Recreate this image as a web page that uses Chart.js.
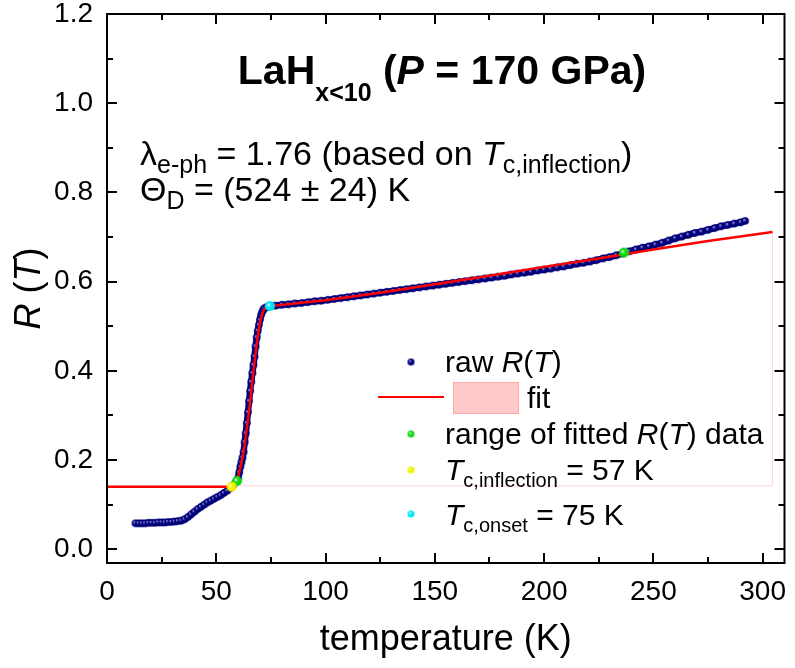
<!DOCTYPE html>
<html>
<head>
<meta charset="utf-8">
<script src="https://cdn.jsdelivr.net/npm/chart.js@4.4.1/dist/chart.umd.min.js"></script>
<style>
  html, body { margin: 0; padding: 0; background: #fff; }
  #wrap { width: 795px; height: 668px; position: relative; }
</style>
</head>
<body>
<div id="wrap"><canvas id="canvas-RT"></canvas></div>
<script>
// measured R(T), temperature in K
const rawTemp = [
  13, 14.5, 16, 17.5, 19, 20.5, 22, 23.5, 25, 26.5, 28, 29.5, 31, 32.5, 34, 35.5,
  37, 38.5, 40, 41.5, 43, 44.5, 46, 47.5, 49, 50.5, 52, 53.5, 55, 56.5, 58, 59.5,
  60, 60.5, 61, 61.5, 62, 62.5, 63, 63.5, 64, 64.5, 65, 65.5, 66, 66.5, 67, 67.5,
  68, 68.5, 69, 69.5, 70, 70.5, 71, 71.5, 72, 73, 74, 75,
  77, 80, 83, 86, 89, 92, 95, 98, 101, 104, 107, 110, 113, 116, 119, 122, 125,
  128, 131, 134, 137, 140, 143, 146, 149, 152, 155, 158, 161, 164, 167, 170,
  173, 176, 179, 182, 185, 188, 191, 194, 197, 200, 203, 206, 209, 212, 215,
  218, 221, 224, 227, 230, 233, 236, 239, 242, 245, 248, 251, 254, 257, 260,
  263, 266, 269, 272, 275, 278, 281, 284, 287, 290, 292
];
const rawR = [
  0.058, 0.058, 0.058, 0.058, 0.059, 0.059, 0.059, 0.060, 0.060, 0.060, 0.061, 0.061, 0.062, 0.063, 0.064, 0.067,
  0.072, 0.078, 0.084, 0.090, 0.095, 0.100, 0.105, 0.109, 0.113, 0.117, 0.121, 0.126, 0.131, 0.137, 0.145, 0.154,
  0.160, 0.172, 0.185, 0.195, 0.205, 0.218, 0.240, 0.260, 0.283, 0.307, 0.332, 0.355, 0.375, 0.395, 0.413, 0.432,
  0.455, 0.475, 0.490, 0.503, 0.515, 0.525, 0.532, 0.537, 0.540, 0.543, 0.544, 0.545,
  0.546, 0.548, 0.549, 0.551, 0.552, 0.554, 0.556, 0.557, 0.559, 0.561, 0.563, 0.565, 0.567, 0.569, 0.571, 0.573, 0.575,
  0.577, 0.579, 0.581, 0.583, 0.585, 0.587, 0.589, 0.591, 0.593, 0.595, 0.597, 0.599, 0.601, 0.603, 0.605,
  0.607, 0.609, 0.611, 0.613, 0.616, 0.618, 0.620, 0.622, 0.625, 0.627, 0.629, 0.632, 0.634, 0.637, 0.640,
  0.642, 0.645, 0.648, 0.652, 0.655, 0.659, 0.663, 0.668, 0.672, 0.676, 0.679, 0.683, 0.687, 0.692, 0.697,
  0.701, 0.705, 0.709, 0.712, 0.716, 0.720, 0.724, 0.727, 0.730, 0.733, 0.736
];

// fitted curve
const fitTemp = [0, 57, 58.5, 60, 61, 62, 63, 64, 65, 66, 67, 68, 69, 70, 71, 72, 73, 74.5,
  100, 125, 150, 175, 200, 225, 250, 275, 304.5];
const fitR = [0.14, 0.14, 0.146, 0.162, 0.182, 0.205, 0.235, 0.272, 0.31, 0.352, 0.398, 0.44, 0.478,
  0.508, 0.528, 0.538, 0.543, 0.545, 0.558, 0.575, 0.594, 0.613, 0.633, 0.652, 0.672, 0.691, 0.711];

// outline of the fit band
const bandTemp = [57, 304.5, 304.5];
const bandR = [0.142, 0.142, 0.711];

// marked points
const rangeTemp = [59.5, 236.5];
const rangeR = [0.153, 0.665];
const inflectionTemp = [57];
const inflectionR = [0.14];
const onsetTemp = [74.5];
const onsetR = [0.545];

const xTickValues = [0, 50, 100, 150, 200, 250, 300];
const yTickValues = [0, 0.2, 0.4, 0.6, 0.8, 1.0, 1.2];

const FONT = '"Liberation Sans", Arial, sans-serif';

const toPoints = (xs, ys) => xs.map((x, i) => ({ x: x, y: ys[i] }));

// small shaded ball used as point marker
function makeBall(r, inner, outer) {
  const c = document.createElement("canvas");
  const s = Math.ceil(r * 2) + 2;
  c.width = s;
  c.height = s;
  const g = c.getContext("2d");
  const grad = g.createRadialGradient(s / 2 - r * 0.3, s / 2 - r * 0.3, 0.2, s / 2, s / 2, r);
  grad.addColorStop(0, inner);
  grad.addColorStop(0.45, outer);
  grad.addColorStop(1, outer);
  g.fillStyle = grad;
  g.beginPath();
  g.arc(s / 2, s / 2, r, 0, Math.PI * 2);
  g.fill();
  return c;
}

const navyBall = makeBall(3.8, "#b0b0e8", "#00007a");
const greenBall = makeBall(5, "#d8ffd8", "#12d812");
const yellowBall = makeBall(5, "#ffffe0", "#f2f200");
const cyanBall = makeBall(5, "#eaffff", "#00e4f4");
const navyLegend = makeBall(3.5, "#b0b0e8", "#00007a");
const greenLegend = makeBall(3.5, "#d8ffd8", "#12d812");
const yellowLegend = makeBall(3.5, "#ffffe0", "#f2f200");
const cyanLegend = makeBall(3.5, "#eaffff", "#00e4f4");

// text with mixed styles: [text, size, style, dy]
function drawRich(ctx, x, y, parts, align) {
  const fontOf = (p) => (p[2] ? p[2] + " " : "") + p[1] + "px " + FONT;
  let w = 0;
  parts.forEach((p) => {
    ctx.font = fontOf(p);
    w += ctx.measureText(p[0]).width;
  });
  let cx = align === "center" ? x - w / 2 : x;
  parts.forEach((p) => {
    ctx.font = fontOf(p);
    ctx.fillText(p[0], cx, y + (p[3] || 0));
    cx += ctx.measureText(p[0]).width;
  });
}

const framePlugin = {
  id: "frame",
  afterDatasetsDraw(chart) {
    const { ctx, chartArea: a } = chart;
    const xs = chart.scales.x;
    const ys = chart.scales.y;
    const line = (x1, y1, x2, y2) => {
      ctx.beginPath();
      ctx.moveTo(x1, y1);
      ctx.lineTo(x2, y2);
      ctx.stroke();
    };
    ctx.save();
    ctx.strokeStyle = "#000";
    ctx.lineWidth = 2;
    ctx.strokeRect(a.left, a.top, a.right - a.left, a.bottom - a.top);
    // inward ticks on all four sides, minor ones shorter
    for (let v = 0; v <= 300; v += 25) {
      const px = Math.round(xs.getPixelForValue(v));
      const len = v % 50 === 0 ? 10 : 6;
      line(px, a.bottom, px, a.bottom - len);
      line(px, a.top, px, a.top + len);
    }
    for (let i = 0; i <= 12; i++) {
      const py = Math.round(ys.getPixelForValue(i / 10));
      const len = i % 2 === 0 ? 10 : 6;
      line(a.left, py, a.left + len, py);
      line(a.right, py, a.right - len, py);
    }
    ctx.restore();
  },
};

const textPlugin = {
  id: "texts",
  afterDraw(chart) {
    const ctx = chart.ctx;
    const a = chart.chartArea;
    ctx.save();
    ctx.fillStyle = "#000";
    ctx.textBaseline = "alphabetic";

    drawRich(ctx, 442, 84, [
      ["LaH", 41, "bold"], ["x<10", 25, "bold", 17], [" (", 41, "bold"],
      ["P", 41, "bold italic"], [" = 170 GPa)", 41, "bold"],
    ], "center");

    drawRich(ctx, 140, 165, [
      ["\u03bb", 34], ["e-ph", 25, "", 8], [" = 1.76 (based on ", 34],
      ["T", 34, "italic"], ["c,inflection", 25, "", 8], [")", 34],
    ]);
    drawRich(ctx, 140, 201, [
      ["\u0398", 34], ["D", 25, "", 8], [" = (524 \u00b1 24) K", 34],
    ]);

    // legend
    const mk = (img, x, y) => ctx.drawImage(img, x - img.width / 2, y - img.height / 2);
    mk(navyLegend, 411, 362);
    drawRich(ctx, 445, 372, [["raw ", 30], ["R", 30, "italic"], ["(", 30], ["T", 30, "italic"], [")", 30]]);

    ctx.strokeStyle = "#ff0000";
    ctx.lineWidth = 2;
    ctx.beginPath();
    ctx.moveTo(378, 397);
    ctx.lineTo(444, 397);
    ctx.stroke();
    ctx.fillStyle = "#ffcaca";
    ctx.fillRect(453, 382, 65, 31);
    ctx.strokeStyle = "#ffa8a8";
    ctx.lineWidth = 1;
    ctx.strokeRect(453.5, 382.5, 65, 31);
    ctx.fillStyle = "#000";
    drawRich(ctx, 527, 408, [["fit", 30]]);

    mk(greenLegend, 411, 434);
    drawRich(ctx, 445, 444, [["range of fitted ", 30], ["R", 30, "italic"], ["(", 30], ["T", 30, "italic"], [") data", 30]]);
    mk(yellowLegend, 411, 470);
    drawRich(ctx, 445, 480, [["T", 30, "italic"], ["c,inflection", 20, "", 7], [" = 57 K", 30]]);
    mk(cyanLegend, 411, 514);
    drawRich(ctx, 445, 525, [["T", 30, "italic"], ["c,onset", 20, "", 7], [" = 75 K", 30]]);

    // axis titles
    drawRich(ctx, (a.left + a.right) / 2, 650, [["temperature (K)", 36]], "center");
    ctx.translate(40, (a.top + a.bottom) / 2);
    ctx.rotate(-Math.PI / 2);
    drawRich(ctx, 0, 0, [["R", 36, "italic"], [" (", 36], ["T", 36, "italic"], [")", 36]], "center");
    ctx.restore();
  },
};

const context = document.getElementById("canvas-RT").getContext("2d");
const rtChart = new Chart(context, {
  type: "scatter",
  data: {
    datasets: [
      {
        label: "Tc,inflection",
        data: toPoints(inflectionTemp, inflectionR),
        pointStyle: yellowBall,
        order: 0,
      },
      {
        label: "Tc,onset",
        data: toPoints(onsetTemp, onsetR),
        pointStyle: cyanBall,
        order: 0,
      },
      {
        label: "range of fitted R(T) data",
        data: toPoints(rangeTemp, rangeR),
        pointStyle: greenBall,
        order: 1,
      },
      {
        label: "fit",
        data: toPoints(fitTemp, fitR),
        showLine: true,
        borderColor: "#ff0000",
        borderWidth: 2.5,
        pointRadius: 0,
        order: 2,
      },
      {
        label: "fit band",
        data: toPoints(bandTemp, bandR),
        showLine: true,
        borderColor: "#ffd6d6",
        borderWidth: 1,
        pointRadius: 0,
        order: 3,
      },
      {
        label: "raw R(T)",
        data: toPoints(rawTemp, rawR),
        showLine: true,
        borderColor: "#00007a",
        borderWidth: 6.5,
        pointStyle: navyBall,
        order: 4,
      },
    ],
  },
  options: {
    responsive: true,
    maintainAspectRatio: false,
    animation: false,
    events: [],
    layout: { padding: { left: 0, right: 6, top: 14, bottom: 0 } },
    plugins: { legend: { display: false }, tooltip: { enabled: false } },
    scales: {
      x: {
        type: "linear",
        min: 0,
        max: 310,
        grid: { display: false, drawTicks: false },
        border: { display: false },
        ticks: {
          stepSize: 50,
          includeBounds: false,
          padding: 12,
          color: "#000",
          font: { family: FONT, size: 28 },
          callback: (v) => (xTickValues.includes(v) ? String(v) : ""),
        },
        afterFit: (scale) => {
          scale.height = 105;
          scale.paddingLeft = 0;
          scale.paddingRight = 0;
        },
      },
      y: {
        type: "linear",
        min: -0.031,
        max: 1.2,
        grid: { display: false, drawTicks: false },
        border: { display: false },
        ticks: {
          stepSize: 0.2,
          includeBounds: false,
          padding: 14,
          color: "#000",
          font: { family: FONT, size: 28 },
          callback: (v) => {
            const hit = yTickValues.find((t) => Math.abs(t - v) < 1e-6);
            return hit === undefined ? "" : hit.toFixed(1);
          },
        },
        afterFit: (scale) => {
          scale.width = 107;
          scale.paddingTop = 0;
          scale.paddingBottom = 0;
        },
      },
    },
  },
  plugins: [framePlugin, textPlugin],
});
</script>
</body>
</html>
